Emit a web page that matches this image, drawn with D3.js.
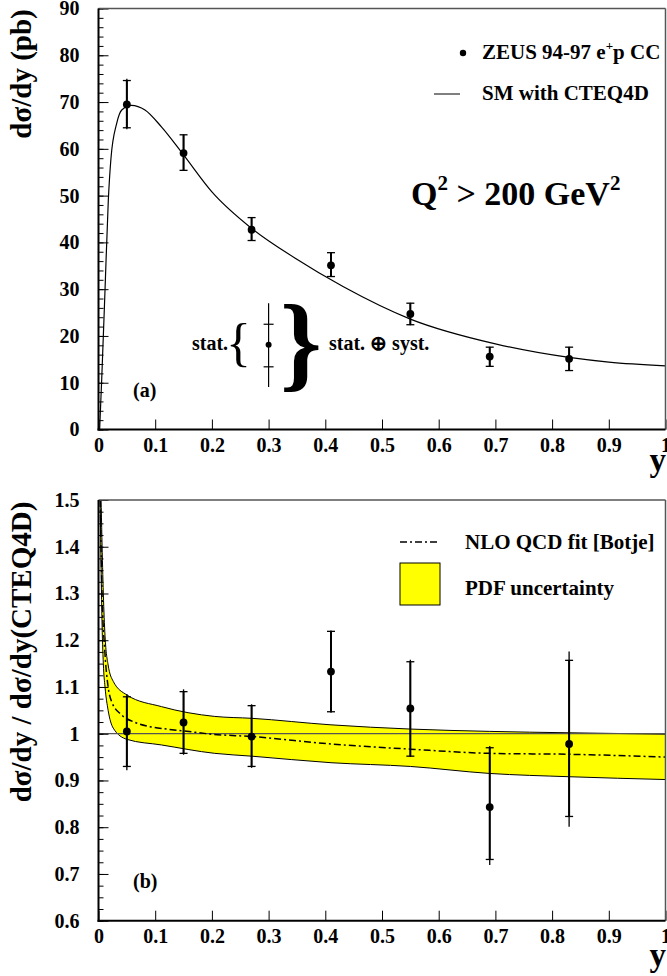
<!DOCTYPE html>
<html>
<head>
<meta charset="utf-8">
<script src="https://cdnjs.cloudflare.com/ajax/libs/d3/7.8.5/d3.min.js"></script>
<style>
body { margin: 0; background: #fff; }
svg { display: block; font-family: "Liberation Serif", "Times New Roman", serif; font-weight: bold; }
</style>
</head>
<body>
<svg id="chart"></svg>
<script>
// ---- values ----
var yBins = [0.05, 0.15, 0.27, 0.41, 0.55, 0.69, 0.83];

// (a) d sigma / dy  [pb]
var xsec       = [69.5, 59.1, 42.7, 35.1, 24.7, 15.6, 15.1];
var xsecStatUp = [5.1, 3.9, 2.6, 2.7, 2.3, 2.0, 2.5];
var xsecStatDn = [5.0, 3.7, 2.3, 2.4, 2.3, 2.1, 2.5];
var xsecTotUp  = [5.5, 4.0, 2.7, 2.8, 2.4, 2.1, 2.6];
var xsecTotDn  = [5.3, 3.8, 2.4, 2.5, 2.4, 2.2, 2.6];

// SM prediction (CTEQ4D)
var smY    = [0.002, 0.0056, 0.0115, 0.0173, 0.022, 0.032, 0.041, 0.058, 0.082, 0.111, 0.15, 0.2, 0.27, 0.347, 0.432, 0.55, 0.7, 0.83, 0.9, 1.0];
var smXsec = [0, 10.6, 29.8, 49.0, 58.0, 65.4, 68.3, 69.3, 68.3, 64.7, 58.7, 50.8, 43.0, 36.6, 30.5, 23.6, 18.3, 15.4, 14.4, 13.6];

// (b) ratio to SM
var ratio       = [1.005, 1.024, 0.994, 1.133, 1.054, 0.843, 0.978];
var ratioStatUp = [0.074, 0.066, 0.066, 0.086, 0.100, 0.127, 0.179];
var ratioStatDn = [0.075, 0.066, 0.064, 0.086, 0.102, 0.112, 0.155];
var ratioTotUp  = [0.080, 0.071, 0.069, 0.088, 0.104, 0.131, 0.198];
var ratioTotDn  = [0.083, 0.069, 0.067, 0.088, 0.104, 0.124, 0.177];

// NLO QCD fit [Botje]
var fitY     = [0.003, 0.0056, 0.0115, 0.017, 0.023, 0.041, 0.065, 0.091, 0.12, 0.15, 0.2, 0.27, 0.41, 0.55, 0.69, 0.83, 1.0];
var fitRatio = [1.50, 1.33, 1.17, 1.10, 1.069, 1.040, 1.024, 1.015, 1.010, 1.006, 0.999, 0.994, 0.978, 0.967, 0.958, 0.956, 0.950];

// PDF uncertainty band
var bandY  = [0.003, 0.006, 0.0085, 0.0115, 0.017, 0.026, 0.05, 0.111, 0.205, 0.27, 0.41, 0.55, 0.69, 0.83, 1.0];
var bandHi = [1.60, 1.42, 1.30, 1.21, 1.147, 1.112, 1.083, 1.058, 1.037, 1.033, 1.019, 1.010, 1.005, 1.002, 0.999];
var bandLo = [1.50, 1.25, 1.15, 1.10, 1.05, 1.012, 0.988, 0.976, 0.958, 0.952, 0.938, 0.930, 0.915, 0.908, 0.902];

var xTicks      = [0, 0.1, 0.2, 0.3, 0.4, 0.5, 0.6, 0.7, 0.8, 0.9, 1];
var topYTicks   = [0, 10, 20, 30, 40, 50, 60, 70, 80, 90];
var botYTicks   = [0.6, 0.7, 0.8, 0.9, 1, 1.1, 1.2, 1.3, 1.4, 1.5];

// ---- layout ----
var W = 667, H = 976;
var svg = d3.select("#chart").attr("width", W).attr("height", H);

var x = d3.scaleLinear().domain([0, 1]).range([98.5, 665.5]);
var yTop = d3.scaleLinear().domain([0, 90]).range([429.5, 8.5]);
var yBot = d3.scaleLinear().domain([0.6, 1.5]).range([920.7, 500]);

var fmt = function(d) { return String(+d.toFixed(1)); };

function drawAxes(y, majors, minorStep, name, titleY) {
    var g = svg.append("g").attr("class", "axes-" + name);
    var y0 = y.range()[0], y1 = y.range()[1];
    var x0 = x.range()[0], x1 = x.range()[1];

    // minor y ticks
    var lo = y.domain()[0], hi = y.domain()[1];
    g.append("g")
        .attr("transform", "translate(" + x0 + ",0)")
        .call(d3.axisLeft(y).tickValues(d3.range(lo, hi + minorStep / 2, minorStep)).tickSize(-5).tickFormat(""))
        .call(function(a) { a.select(".domain").remove(); });

    // major y ticks + labels
    g.append("g")
        .attr("transform", "translate(" + x0 + ",0)")
        .call(d3.axisLeft(y).tickValues(majors).tickSize(-10).tickPadding(19).tickFormat(fmt))
        .call(function(a) {
            a.select(".domain").remove();
            a.attr("font-family", null).attr("font-size", 20);
        });

    // x ticks + labels
    g.append("g")
        .attr("transform", "translate(0," + y0 + ")")
        .call(d3.axisBottom(x).tickValues(xTicks).tickSize(-10).tickPadding(8).tickFormat(fmt))
        .call(function(a) {
            a.select(".domain").remove();
            a.attr("font-family", null).attr("font-size", 20);
        });

    g.selectAll(".tick line").attr("stroke", "#000").attr("stroke-width", 1);

    // frame
    g.append("line").attr("x1", x0).attr("x2", x1).attr("y1", y1).attr("y2", y1).attr("stroke", "#555").attr("stroke-width", 1.5);
    g.append("line").attr("x1", x1).attr("x2", x1).attr("y1", y1).attr("y2", y0).attr("stroke", "#555").attr("stroke-width", 1.5);
    g.append("line").attr("x1", x0).attr("x2", x0).attr("y1", y1).attr("y2", y0 + 1).attr("stroke", "#000").attr("stroke-width", 2);
    g.append("line").attr("x1", x0 - 1).attr("x2", x1).attr("y1", y0).attr("y2", y0).attr("stroke", "#000").attr("stroke-width", 2);

    // "y" axis title
    g.append("text").attr("x", 666).attr("y", titleY).attr("text-anchor", "end")
        .attr("font-size", 33).text("y");
}

function drawPoints(g, y, vals, sUp, sDn, tUp, tDn, r) {
    var pts = g.selectAll("g.pt").data(yBins).enter().append("g").attr("class", "pt");
    pts.append("line")
        .attr("x1", function(d) { return x(d); }).attr("x2", function(d) { return x(d); })
        .attr("y1", function(d, i) { return y(vals[i] + tUp[i]); })
        .attr("y2", function(d, i) { return y(vals[i] - tDn[i]); })
        .attr("stroke", "#000").attr("stroke-width", 1.3);
    pts.append("line")
        .attr("x1", function(d) { return x(d); }).attr("x2", function(d) { return x(d); })
        .attr("y1", function(d, i) { return y(vals[i] + sUp[i]); })
        .attr("y2", function(d, i) { return y(vals[i] - sDn[i]); })
        .attr("stroke", "#000").attr("stroke-width", 2);
    [function(i) { return vals[i] + sUp[i]; }, function(i) { return vals[i] - sDn[i]; }].forEach(function(f) {
        pts.append("line")
            .attr("x1", function(d) { return x(d) - 4; }).attr("x2", function(d) { return x(d) + 4; })
            .attr("y1", function(d, i) { return y(f(i)); }).attr("y2", function(d, i) { return y(f(i)); })
            .attr("stroke", "#000").attr("stroke-width", 1.3);
    });
    pts.append("circle")
        .attr("cx", function(d) { return x(d); })
        .attr("cy", function(d, i) { return y(vals[i]); })
        .attr("r", r).attr("fill", "#000");
}

function clipFor(id, y) {
    svg.append("clipPath").attr("id", id).append("rect")
        .attr("x", x.range()[0]).attr("y", y.range()[1])
        .attr("width", x.range()[1] - x.range()[0]).attr("height", y.range()[0] - y.range()[1]);
}

// ================= panel (a) =================
clipFor("clipA", yTop);
var gA = svg.append("g");
gA.append("path")
    .datum(smY.map(function(d, i) { return [d, smXsec[i]]; }))
    .attr("clip-path", "url(#clipA)")
    .attr("d", d3.line().x(function(d) { return x(d[0]); }).y(function(d) { return yTop(d[1]); }).curve(d3.curveMonotoneX))
    .attr("fill", "none").attr("stroke", "#000").attr("stroke-width", 1.2);
drawAxes(yTop, topYTicks, 2, "a", 471);
drawPoints(gA, yTop, xsec, xsecStatUp, xsecStatDn, xsecTotUp, xsecTotDn, 3.9);

svg.append("text").attr("transform", "translate(31,74) rotate(-90)").attr("text-anchor", "middle")
    .attr("font-size", 29).text("dσ/dy (pb)");

// legend (a)
svg.append("circle").attr("cx", 463).attr("cy", 53).attr("r", 3.2).attr("fill", "#000");
var t1 = svg.append("text").attr("x", 482).attr("y", 59).attr("font-size", 21);
t1.append("tspan").text("ZEUS 94-97 e");
t1.append("tspan").attr("font-size", 13).attr("dy", -9).text("+");
t1.append("tspan").attr("dy", 9).text("p CC");
svg.append("line").attr("x1", 434).attr("x2", 460).attr("y1", 94).attr("y2", 94).attr("stroke", "#000").attr("stroke-width", 1);
svg.append("text").attr("x", 482).attr("y", 100).attr("font-size", 21).text("SM with CTEQ4D");

var q = svg.append("text").attr("x", 411).attr("y", 205).attr("font-size", 34);
q.append("tspan").text("Q");
q.append("tspan").attr("font-size", 21).attr("dy", -15).text("2");
q.append("tspan").attr("dy", 15).text(" > 200 GeV");
q.append("tspan").attr("font-size", 21).attr("dy", -15).text("2");

svg.append("text").attr("x", 133).attr("y", 397).attr("font-size", 20).text("(a)");

// stat / syst key
var keyX = x(0.3), keyVal = 18.1;
svg.append("line").attr("x1", keyX).attr("x2", keyX).attr("y1", yTop(27)).attr("y2", yTop(9.1)).attr("stroke", "#000").attr("stroke-width", 1.2);
[22.5, 13.4].forEach(function(v) {
    svg.append("line").attr("x1", keyX - 5).attr("x2", keyX + 5).attr("y1", yTop(v)).attr("y2", yTop(v)).attr("stroke", "#000").attr("stroke-width", 1.2);
});
svg.append("circle").attr("cx", keyX).attr("cy", yTop(keyVal)).attr("r", 3).attr("fill", "#000");
svg.append("text").attr("x", 192).attr("y", 350).attr("font-size", 20).text("stat.");
svg.append("text").attr("x", 226).attr("y", 360).attr("font-size", 52).attr("font-weight", "normal").text("{");
svg.append("text").attr("x", 280).attr("y", 378).attr("font-size", 106).text("}");
svg.append("text").attr("x", 329).attr("y", 350).attr("font-size", 20).text("stat. ⊕ syst.");

// ================= panel (b) =================
clipFor("clipB", yBot);
var gB = svg.append("g");
gB.append("path")
    .datum(bandY.map(function(d, i) { return [d, bandLo[i], bandHi[i]]; }))
    .attr("clip-path", "url(#clipB)")
    .attr("d", d3.area().x(function(d) { return x(d[0]); })
        .y0(function(d) { return yBot(d[1]); }).y1(function(d) { return yBot(d[2]); })
        .curve(d3.curveMonotoneX))
    .attr("fill", "#ffff00").attr("stroke", "#000").attr("stroke-width", 1);
gB.append("line").attr("x1", x(0)).attr("x2", x(1)).attr("y1", yBot(1)).attr("y2", yBot(1))
    .attr("stroke", "#555").attr("stroke-width", 1.2);
gB.append("path")
    .datum(fitY.map(function(d, i) { return [d, fitRatio[i]]; }))
    .attr("clip-path", "url(#clipB)")
    .attr("d", d3.line().x(function(d) { return x(d[0]); }).y(function(d) { return yBot(d[1]); }).curve(d3.curveMonotoneX))
    .attr("fill", "none").attr("stroke", "#000").attr("stroke-width", 1.5)
    .attr("stroke-dasharray", "7,3,2,3");
drawAxes(yBot, botYTicks, 0.025, "b", 966);
drawPoints(gB, yBot, ratio, ratioStatUp, ratioStatDn, ratioTotUp, ratioTotDn, 3.9);

svg.append("text").attr("transform", "translate(31,652) rotate(-90)").attr("text-anchor", "middle")
    .attr("font-size", 29).text("dσ/dy / dσ/dy(CTEQ4D)");

// legend (b)
svg.append("line").attr("x1", 400).attr("x2", 440).attr("y1", 542).attr("y2", 542)
    .attr("stroke", "#000").attr("stroke-width", 1.5).attr("stroke-dasharray", "7,3,2,3");
svg.append("text").attr("x", 465).attr("y", 549).attr("font-size", 21).text("NLO QCD fit [Botje]");
svg.append("rect").attr("x", 400).attr("y", 563).attr("width", 40).attr("height", 42)
    .attr("fill", "#ffff00").attr("stroke", "#000").attr("stroke-width", 1);
svg.append("text").attr("x", 465).attr("y", 595).attr("font-size", 21).text("PDF uncertainty");

svg.append("text").attr("x", 133).attr("y", 888).attr("font-size", 20).text("(b)");
</script>
</body>
</html>
